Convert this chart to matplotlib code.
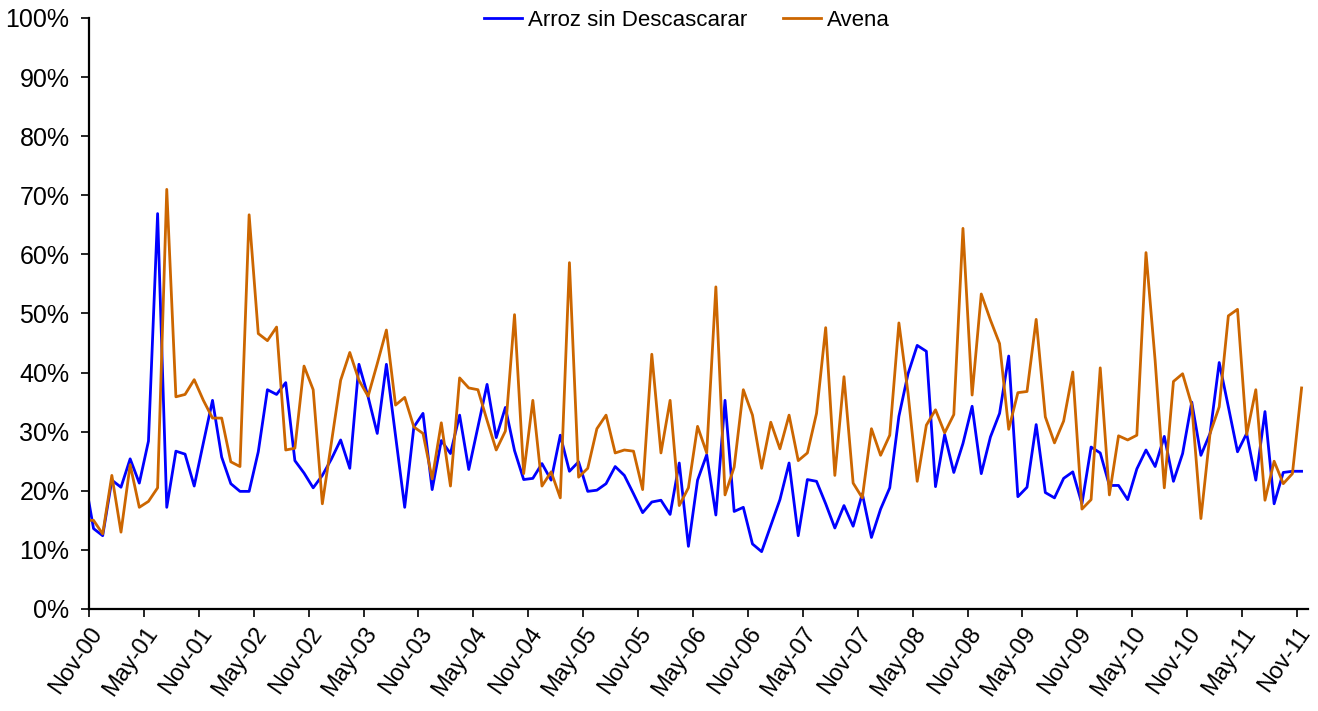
import matplotlib
matplotlib.use("Agg")
import matplotlib.pyplot as plt
import numpy as np
from matplotlib.ticker import PercentFormatter

plt.rcParams['font.family'] = ['Liberation Sans', 'DejaVu Sans']

# monthly series, Oct-00 .. Nov-11 (first point falls left of the axis start)
arroz = [22.5, 13.6, 12.4, 21.8, 20.6, 25.4, 21.3, 28.4, 66.9, 17.2, 26.7, 26.2,
         20.8, 28.1, 35.3, 25.7, 21.2, 19.9, 19.9, 26.6, 37.1, 36.3, 38.3, 25.1,
         23.0, 20.5, 22.6, 25.4, 28.6, 23.8, 41.4, 35.9, 29.7, 41.4, 29.3, 17.2,
         30.8, 33.1, 20.2, 28.5, 26.3, 32.8, 23.6, 30.8, 38.0, 29.0, 34.1, 26.8,
         21.9, 22.1, 24.6, 21.8, 29.4, 23.3, 24.9, 19.9, 20.1, 21.2, 24.1, 22.6,
         19.5, 16.3, 18.1, 18.4, 16.0, 24.7, 10.6, 21.8, 26.1, 15.9, 35.3, 16.5,
         17.2, 11.0, 9.7, 14.1, 18.5, 24.7, 12.4, 21.9, 21.6, 17.8, 13.7, 17.5,
         14.0, 19.5, 12.1, 16.9, 20.5, 32.6, 39.8, 44.6, 43.6, 20.7, 29.5, 23.1,
         28.0, 34.3, 22.9, 29.1, 33.1, 42.8, 19.0, 20.6, 31.2, 19.7, 18.8, 22.1,
         23.2, 17.8, 27.4, 26.4, 20.9, 20.9, 18.5, 23.7, 26.9, 24.1, 29.2, 21.6,
         26.3, 35.0, 26.0, 29.7, 41.7, 34.2, 26.6, 29.7, 21.8, 33.4, 17.8, 23.1,
         23.3, 23.3]

avena = [15.0, 15.0, 12.7, 22.6, 13.0, 24.4, 17.2, 18.2, 20.5, 71.0, 35.9, 36.3,
         38.8, 35.3, 32.3, 32.3, 24.9, 24.1, 66.7, 46.6, 45.4, 47.7, 26.9, 27.2,
         41.1, 37.1, 17.8, 28.2, 38.7, 43.4, 38.7, 36.0, 41.5, 47.2, 34.5, 35.8,
         30.8, 29.7, 22.0, 31.5, 20.8, 39.1, 37.4, 37.1, 31.9, 26.9, 30.1, 49.8,
         22.9, 35.3, 20.8, 23.2, 18.8, 58.6, 22.3, 23.8, 30.5, 32.8, 26.4, 26.9,
         26.7, 20.2, 43.1, 26.4, 35.3, 17.5, 20.5, 30.9, 26.4, 54.5, 19.3, 24.0,
         37.1, 32.8, 23.8, 31.6, 27.1, 32.8, 25.1, 26.4, 33.1, 47.6, 22.6, 39.3,
         21.3, 18.8, 30.5, 26.0, 29.4, 48.4, 36.5, 21.6, 31.1, 33.7, 29.8, 32.9,
         64.4, 36.2, 53.3, 48.9, 44.9, 30.4, 36.6, 36.8, 49.0, 32.5, 28.1, 31.8,
         40.1, 16.9, 18.5, 40.8, 19.3, 29.3, 28.6, 29.4, 60.3, 42.0, 20.5, 38.5,
         39.8, 34.5, 15.3, 29.7, 34.2, 49.6, 50.7, 29.5, 37.1, 18.4, 25.0, 21.2,
         22.9, 37.4]

tick_labels = ['Nov-00', 'May-01', 'Nov-01', 'May-02', 'Nov-02', 'May-03', 'Nov-03',
               'May-04', 'Nov-04', 'May-05', 'Nov-05', 'May-06', 'Nov-06', 'May-07',
               'Nov-07', 'May-08', 'Nov-08', 'May-09', 'Nov-09', 'May-10', 'Nov-10',
               'May-11', 'Nov-11']

# x in months from Nov-00, points sit mid-month
x = np.arange(len(arroz)) - 1 + 0.5

fig = plt.figure(figsize=(13.18, 7.11), dpi=100)
ax = fig.add_axes([0.0675, 0.1435, 0.9249, 0.8312])

ax.plot(x, arroz, color='#0000FF', lw=2.0, label='Arroz sin Descascarar')
ax.plot(x, avena, color='#CC6600', lw=2.0, label='Avena')

ax.set_xlim(0, 133.2)
ax.set_ylim(0, 100)
ax.set_yticks(np.arange(0, 101, 10))
ax.yaxis.set_major_formatter(PercentFormatter(decimals=0))
ax.set_xticks(np.arange(0, 133, 6))
ax.set_xticklabels(tick_labels, rotation=55, ha='right', rotation_mode='anchor')

for s in ['top', 'right']:
    ax.spines[s].set_visible(False)
for s in ['left', 'bottom']:
    ax.spines[s].set_linewidth(1.6)
ax.tick_params(axis='both', direction='out', length=6, width=1.2,
               labelsize=17, colors='black')
ax.tick_params(axis='y', labelsize=18, pad=8)
ax.tick_params(axis='x', pad=4)

ax.legend(loc='upper center', bbox_to_anchor=(0.4906, 1.048), ncol=2, frameon=False,
          fontsize=16, handlelength=1.7, columnspacing=1.6, handletextpad=0.3)

fig.savefig('out.png', dpi=100)
